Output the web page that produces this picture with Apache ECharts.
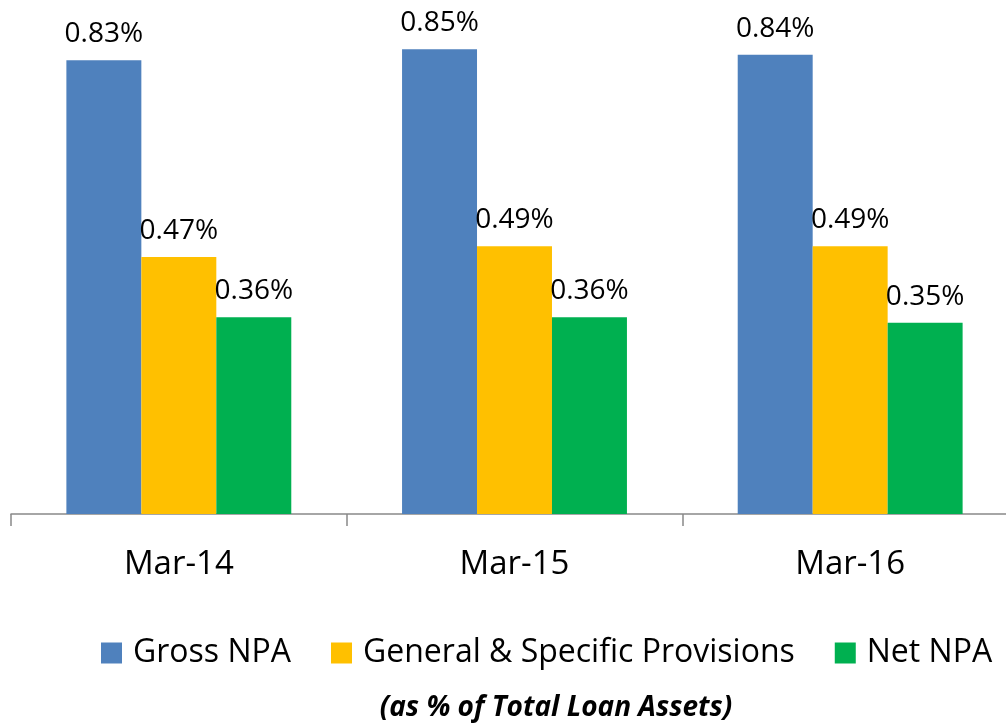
<!DOCTYPE html>
<html>
<head>
<meta charset="utf-8">
<script src="https://cdn.jsdelivr.net/npm/echarts@6/dist/echarts.min.js"></script>
<style>
  html, body { margin: 0; padding: 0; background: #fff; }
  #chart { width: 1006px; height: 724px; }
</style>
</head>
<body>
<div id="chart"></div>
<script>
// data (values in % of total loan assets)
var categories = ['Mar-14', 'Mar-15', 'Mar-16']
var grossNpa = [0.83, 0.85, 0.84]
var provisions = [0.47, 0.49, 0.49]
var netNpa = [0.36, 0.36, 0.35]
var seriesNames = ['Gross NPA', 'General & Specific Provisions', 'Net NPA']
var colors = ['#4F81BD', '#FFC000', '#00B050']

var font = '"Open Sans", "Noto Sans", sans-serif'

function barSeries(name, data, color) {
  return {
    name: name,
    type: 'bar',
    data: data,
    barGap: '0%',
    barCategoryGap: '33%',
    itemStyle: { color: color },
    label: {
      show: true,
      position: 'top',
      distance: 12,
      color: '#000',
      fontFamily: font,
      fontSize: 28,
      formatter: function (p) {
        return p.value.toFixed(2) + '%'
      }
    }
  }
}

var myChart = echarts.init(document.getElementById('chart'))
myChart.setOption({
  animation: false,
  color: colors,
  grid: {
    left: 11,
    top: 22,
    right: -12,
    bottom: 210,
    outerBoundsMode: 'none'
  },
  legend: {
    data: seriesNames,
    left: 96,
    top: 632,
    itemWidth: 21,
    itemHeight: 21,
    itemGap: 40,
    icon: 'rect',
    textStyle: {
      color: '#000',
      fontFamily: font,
      fontSize: 32,
      padding: [0, 0, 0, 6]
    }
  },
  title: {
    text: '(as % of Total Loan Assets)',
    left: 551,
    textAlign: 'center',
    top: 689,
    textStyle: {
      color: '#000',
      fontFamily: font,
      fontSize: 28,
      fontWeight: 'bold',
      fontStyle: 'italic'
    }
  },
  xAxis: {
    type: 'category',
    data: categories,
    axisLine: { lineStyle: { color: '#898989', width: 1.5 } },
    axisTick: { show: true, length: 12, lineStyle: { color: '#898989', width: 1.5 } },
    axisLabel: {
      color: '#000',
      fontFamily: font,
      fontSize: 33,
      margin: 34
    }
  },
  yAxis: {
    type: 'value',
    min: 0,
    max: 0.9,
    show: false,
    splitLine: { show: false }
  },
  series: [
    barSeries(seriesNames[0], grossNpa, colors[0]),
    barSeries(seriesNames[1], provisions, colors[1]),
    barSeries(seriesNames[2], netNpa, colors[2])
  ]
})
</script>
</body>
</html>
